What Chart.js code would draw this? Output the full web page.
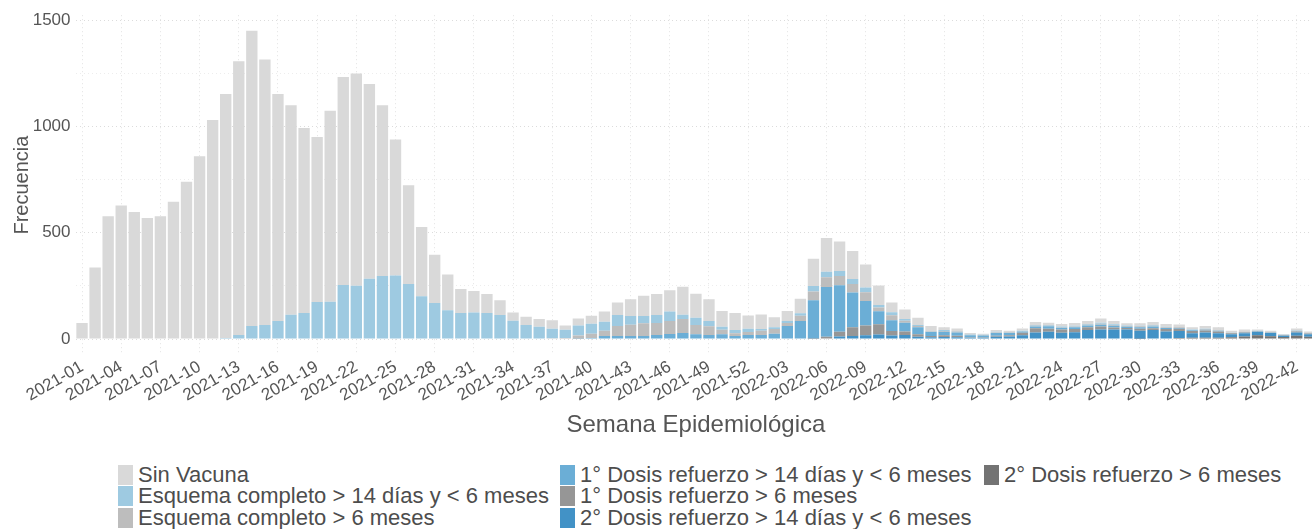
<!DOCTYPE html>
<html>
<head>
<meta charset="utf-8">
<script src="https://cdn.jsdelivr.net/npm/chart.js@4.4.0/dist/chart.umd.min.js"></script>
<style>
  body { margin: 0; width: 1312px; height: 529px; overflow: hidden; background: #fff;
         font-family: "Liberation Sans", Arial, sans-serif; }
  #wrap { position: absolute; left: 0; top: 0; width: 1322px; height: 440px; }
  .col { position: absolute; top: 464px; font-size: 22px; color: #4d4d4d; }
  .item { height: 21.5px; display: flex; align-items: center; white-space: nowrap; }
  .key { width: 15px; height: 20px; margin-right: 5px; flex: none; }
</style>
</head>
<body>
<div id="wrap"><canvas id="grafico" width="1322" height="440"></canvas></div>
<div class="col" id="col1" style="left:118px"></div>
<div class="col" id="col2" style="left:560px"></div>
<div class="col" id="col3" style="left:984px"></div>
<script>
// Semanas epidemiológicas
const semanas = [
  '2021-01','2021-02','2021-03','2021-04','2021-05','2021-06','2021-07','2021-08','2021-09','2021-10',
  '2021-11','2021-12','2021-13','2021-14','2021-15','2021-16','2021-17','2021-18','2021-19','2021-20',
  '2021-21','2021-22','2021-23','2021-24','2021-25','2021-26','2021-27','2021-28','2021-29','2021-30',
  '2021-31','2021-32','2021-33','2021-34','2021-35','2021-36','2021-37','2021-38','2021-39','2021-40',
  '2021-41','2021-42','2021-43','2021-44','2021-45','2021-46','2021-47','2021-48','2021-49','2021-50',
  '2021-51','2021-52','2022-01','2022-02','2022-03','2022-04','2022-05','2022-06','2022-07','2022-08',
  '2022-09','2022-10','2022-11','2022-12','2022-13','2022-14','2022-15','2022-16','2022-17','2022-18',
  '2022-19','2022-20','2022-21','2022-22','2022-23','2022-24','2022-25','2022-26','2022-27','2022-28',
  '2022-29','2022-30','2022-31','2022-32','2022-33','2022-34','2022-35','2022-36','2022-37','2022-38',
  '2022-39','2022-40','2022-41','2022-42','2022-43'
];

// Frecuencias por estado de vacunación
const sinVacuna = [
  75,337,578,628,597,569,577,646,740,860,
  1030,1147,1288,1389,1249,1067,986,870,776,898,
  978,998,916,804,640,464,326,228,168,113,
  101,90,69,39,39,36,40,20,33,38,
  49,59,79,96,99,100,132,113,102,74,
  80,62,69,47,47,69,129,158,139,132,
  108,92,46,45,34,23,13,12,6,5,
  8,6,11,14,11,12,13,14,20,15,
  10,11,14,13,12,10,12,12,8,9,
  6,6,4,9,6
];
const esquema14 = [
  0,0,0,0,0,0,0,0,0,0,
  0,5,19,61,66,85,114,122,174,176,
  254,251,284,296,299,259,201,169,136,122,
  125,122,113,86,63,55,45,39,47,47,
  42,52,41,34,38,45,20,34,25,14,
  15,16,8,9,10,11,25,26,23,23,
  23,12,14,8,5,3,4,3,2,1,
  3,2,2,4,3,3,3,4,5,4,
  3,3,3,3,2,2,2,2,1,1,
  1,1,1,2,1
];
const esquema6 = [
  0,0,0,0,0,0,0,0,0,0,
  0,0,0,0,0,0,0,0,0,0,
  0,0,0,0,0,0,0,0,0,0,
  0,0,0,0,3,3,4,5,15,20,
  25,47,53,60,56,61,66,44,41,22,
  13,14,20,22,14,25,41,46,44,40,
  41,17,24,9,6,2,4,4,2,2,
  3,3,2,3,3,3,3,3,5,4,
  3,4,4,3,3,2,3,2,1,2,
  1,1,0,2,1
];
const refuerzo1_14 = [
  0,0,0,0,0,0,0,0,0,0,
  0,0,0,0,0,0,0,0,0,0,
  0,0,0,0,0,0,0,0,0,0,
  0,0,0,0,0,0,0,0,2,5,
  14,14,14,14,19,24,28,22,19,22,
  14,19,19,25,61,85,179,234,219,163,
  115,61,50,42,32,19,16,16,9,8,
  13,10,5,8,11,8,9,9,8,8,
  6,8,8,5,4,3,4,3,2,2,
  1,1,1,2,1
];
const refuerzo1_6 = [
  0,0,0,0,0,0,0,0,0,0,
  0,0,0,0,0,0,0,0,0,0,
  0,0,0,0,0,0,0,0,0,0,
  0,0,0,0,0,0,0,0,0,0,
  0,0,0,0,0,0,0,0,0,0,
  0,0,0,0,0,0,3,8,22,42,
  46,49,21,16,12,6,8,6,3,3,
  4,6,12,20,15,15,15,13,14,9,
  7,9,9,11,10,11,9,9,4,4,
  2,2,2,4,3
];
const refuerzo2_14 = [
  0,0,0,0,0,0,0,0,0,0,
  0,0,0,0,0,0,0,0,0,0,
  0,0,0,0,0,0,0,0,0,0,
  0,0,0,0,0,0,0,0,0,0,
  0,0,0,0,0,0,0,0,0,0,
  0,0,0,0,0,0,1,3,12,14,
  18,21,17,19,11,8,10,9,6,6,
  11,12,18,31,34,30,32,42,45,45,
  45,37,39,33,33,21,25,21,15,15,
  16,15,6,16,12
];
const refuerzo2_6 = [
  0,0,0,0,0,0,0,0,0,0,
  0,0,0,0,0,0,0,0,0,0,
  0,0,0,0,0,0,0,0,0,0,
  0,0,0,0,0,0,0,0,0,0,
  0,0,0,0,0,0,0,0,0,0,
  0,0,0,0,0,0,0,0,0,0,
  0,0,0,0,0,0,0,0,0,0,
  0,0,0,0,0,0,0,0,0,0,
  0,2,3,3,5,6,6,6,8,12,
  18,13,10,15,11
];

const yTicks = [0, 250, 500, 750, 1000, 1250, 1500];

// orden de la leyenda (de arriba hacia abajo en la pila)
const series = [
  { label: 'Sin Vacuna', data: sinVacuna, color: '#d9d9d9' },
  { label: 'Esquema completo > 14 días y < 6 meses', data: esquema14, color: '#9ecae1' },
  { label: 'Esquema completo > 6 meses', data: esquema6, color: '#bdbdbd' },
  { label: '1° Dosis refuerzo > 14 días y < 6 meses', data: refuerzo1_14, color: '#6baed6' },
  { label: '1° Dosis refuerzo > 6 meses', data: refuerzo1_6, color: '#969696' },
  { label: '2° Dosis refuerzo > 14 días y < 6 meses', data: refuerzo2_14, color: '#4292c6' },
  { label: '2° Dosis refuerzo > 6 meses', data: refuerzo2_6, color: '#737373' }
];

// Chart.js apila desde el primer dataset, así que se invierte
const datasets = series.slice().reverse().map(s => ({
  label: s.label,
  data: s.data,
  backgroundColor: s.color,
  borderWidth: 0,
  barPercentage: 0.87,
  categoryPercentage: 1.0
}));

const fuente = '"Liberation Sans", Arial, sans-serif';

new Chart(document.getElementById('grafico').getContext('2d'), {
  type: 'bar',
  data: { labels: semanas, datasets: datasets },
  options: {
    responsive: false,
    animation: false,
    layout: { padding: { top: 15, right: 2, left: 0, bottom: 0 } },
    plugins: { legend: { display: false }, tooltip: { enabled: false } },
    scales: {
      x: {
        stacked: true,
        grid: {
          offset: false,
          drawTicks: false,
          color: c => (c.index % 3 === 0 ? '#e3e3e3' : 'rgba(0,0,0,0)')
        },
        border: { display: false, dash: [1, 3] },
        ticks: {
          autoSkip: false,
          minRotation: 30,
          maxRotation: 30,
          padding: 2,
          color: '#555',
          font: { family: fuente, size: 17 },
          callback: (v, i) => (i % 3 === 0 ? semanas[i] : '')
        },
        title: {
          display: true,
          text: 'Semana Epidemiológica',
          color: '#555',
          font: { family: fuente, size: 24 },
          padding: { top: 0, bottom: 0 }
        },
        afterFit: s => { s.height = 85; }
      },
      y: {
        stacked: true,
        min: -75,
        max: 1523,
        afterBuildTicks: s => { s.ticks = yTicks.map(v => ({ value: v })); },
        grid: {
          drawTicks: false,
          color: c => (c.tick && c.tick.value % 500 === 0 ? '#dcdcdc' : '#ededed')
        },
        border: { display: false, dash: [1, 3] },
        ticks: {
          padding: 5,
          color: '#555',
          font: { family: fuente, size: 17 },
          callback: v => (v % 500 === 0 ? v : '')
        },
        title: {
          display: true,
          text: 'Frecuencia',
          color: '#555',
          font: { family: fuente, size: 20 },
          padding: { top: 10, bottom: 0 }
        },
        afterFit: s => { s.width = 75.5; }
      }
    }
  }
});

// Leyenda en tres columnas
const columnas = [[0, 1, 2], [3, 4, 5], [6]];
columnas.forEach((idx, k) => {
  const col = document.getElementById('col' + (k + 1));
  idx.forEach(i => {
    const it = document.createElement('div');
    it.className = 'item';
    it.innerHTML = '<span class="key" style="background:' + series[i].color + '"></span><span>' + series[i].label + '</span>';
    col.appendChild(it);
  });
});
</script>
</body>
</html>
